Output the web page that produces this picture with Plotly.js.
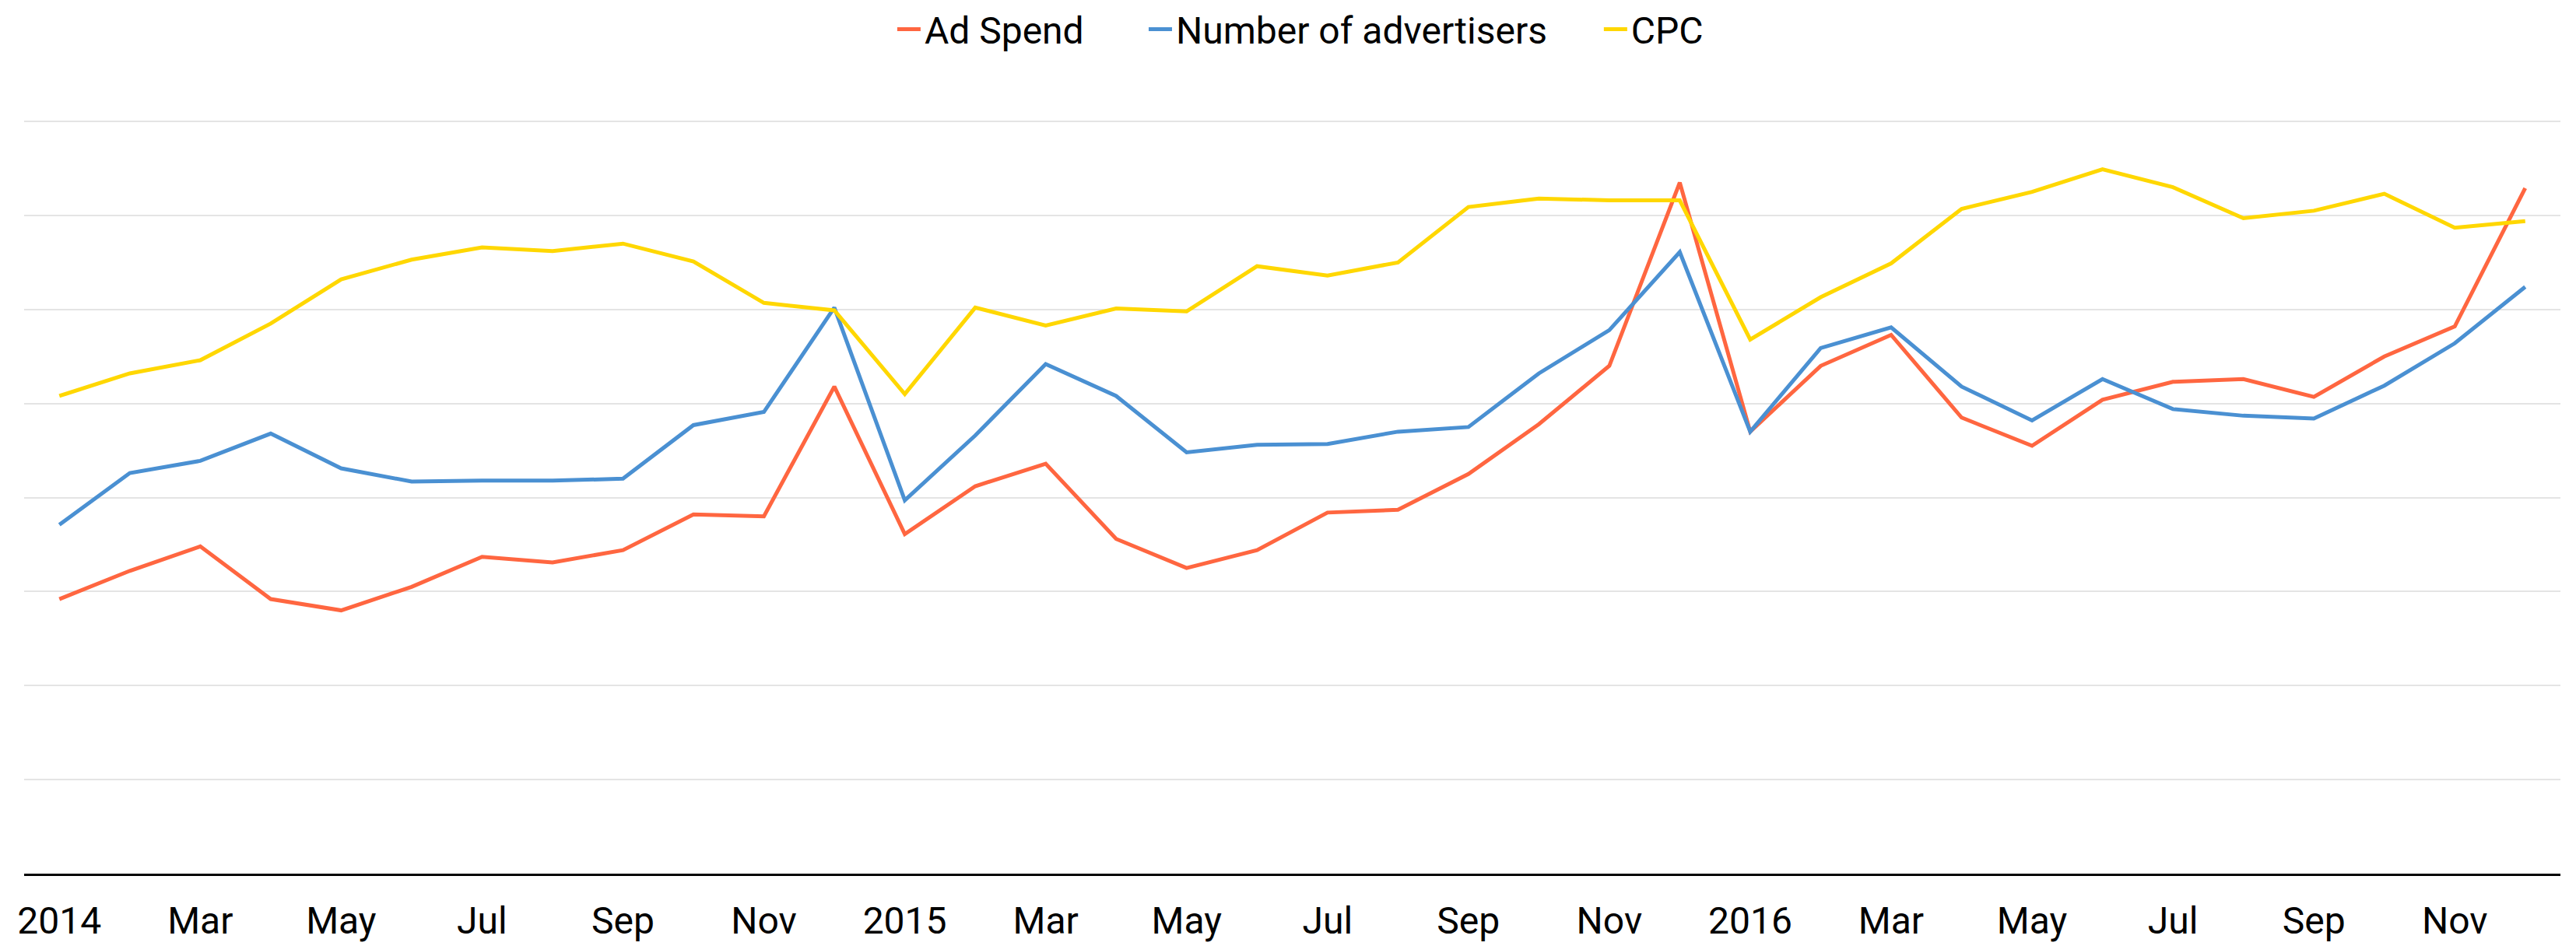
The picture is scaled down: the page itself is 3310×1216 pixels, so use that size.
<!DOCTYPE html>
<html>
<head>
<meta charset="utf-8">
<script src="https://cdn.plot.ly/plotly-3.0.1.min.js"></script>
<style>
  html, body { margin: 0; padding: 0; background: #fff; }
  #chart { width: 3310px; height: 1216px; }
</style>
</head>
<body>
<div id="chart"></div>
<script>
// Months, Jan 2014 - Dec 2016
var months = [
  "2014-01", "2014-02", "2014-03", "2014-04", "2014-05", "2014-06",
  "2014-07", "2014-08", "2014-09", "2014-10", "2014-11", "2014-12",
  "2015-01", "2015-02", "2015-03", "2015-04", "2015-05", "2015-06",
  "2015-07", "2015-08", "2015-09", "2015-10", "2015-11", "2015-12",
  "2016-01", "2016-02", "2016-03", "2016-04", "2016-05", "2016-06",
  "2016-07", "2016-08", "2016-09", "2016-10", "2016-11", "2016-12"
];

var adSpend = [
  29.2, 32.2, 34.8, 29.2, 28.0, 30.5, 33.7, 33.1, 34.4, 38.2, 38.0, 51.8,
  36.1, 41.2, 43.6, 35.6, 32.5, 34.4, 38.4, 38.7, 42.5, 47.8, 54.0, 73.5,
  47.0, 54.0, 57.3, 48.5, 45.5, 50.4, 52.3, 52.6, 50.7, 55.0, 58.2, 72.9
];

var advertisers = [
  37.1, 42.6, 43.9, 46.8, 43.1, 41.7, 41.8, 41.8, 42.0, 47.7, 49.1, 60.2,
  39.7, 46.6, 54.2, 50.8, 44.8, 45.6, 45.7, 47.0, 47.5, 53.2, 57.8, 66.1,
  47.0, 55.9, 58.1, 51.8, 48.2, 52.6, 49.4, 48.7, 48.4, 51.9, 56.4, 62.4
];

var cpc = [
  50.8, 53.2, 54.6, 58.5, 63.2, 65.3, 66.6, 66.2, 67.0, 65.1, 60.7, 59.9,
  51.0, 60.2, 58.3, 60.1, 59.8, 64.6, 63.6, 65.0, 70.9, 71.8, 71.6, 71.6,
  56.8, 61.3, 64.9, 70.7, 72.5, 74.9, 73.0, 69.7, 70.5, 72.3, 68.7, 69.4
];

var tickMonths = [
  "2014-01", "2014-03", "2014-05", "2014-07", "2014-09", "2014-11",
  "2015-01", "2015-03", "2015-05", "2015-07", "2015-09", "2015-11",
  "2016-01", "2016-03", "2016-05", "2016-07", "2016-09", "2016-11"
];
var tickLabels = [
  "2014", "Mar", "May", "Jul", "Sep", "Nov",
  "2015", "Mar", "May", "Jul", "Sep", "Nov",
  "2016", "Mar", "May", "Jul", "Sep", "Nov"
];

var fontFamily = "Roboto, 'Liberation Sans', sans-serif";
var textFont = { family: fontFamily, size: 48, color: "#000" };

var data = [
  {
    x: months, y: adSpend, name: "Ad Spend", legend: "legend",
    type: "scatter", mode: "lines",
    line: { color: "#ff6640", width: 5 }
  },
  {
    x: months, y: advertisers, name: "Number of advertisers", legend: "legend2",
    type: "scatter", mode: "lines",
    line: { color: "#4a90d2", width: 5 }
  },
  {
    x: months, y: cpc, name: "CPC", legend: "legend3",
    type: "scatter", mode: "lines",
    line: { color: "#ffd700", width: 5 }
  }
];

// one legend per series so the entries sit where the reference puts them
function legendAt(xPos) {
  return {
    orientation: "h",
    xref: "container", yref: "container",
    x: xPos, xanchor: "left",
    y: 0.969, yanchor: "middle",
    font: textFont,
    bgcolor: "rgba(0,0,0,0)"
  };
}

var layout = {
  width: 3310,
  height: 1216,
  paper_bgcolor: "#fff",
  plot_bgcolor: "#fff",
  font: textFont,
  margin: { l: 31, r: 20, t: 150, b: 93 },
  showlegend: true,
  legend: legendAt(0.3468),
  legend2: legendAt(0.4444),
  legend3: legendAt(0.6211),
  xaxis: {
    type: "category",
    range: [-0.5, 35.5],
    tickmode: "array",
    tickvals: tickMonths,
    ticktext: tickLabels,
    showgrid: false,
    showline: true,
    linecolor: "#000",
    linewidth: 3,
    ticks: "outside",
    ticklen: 16,
    tickcolor: "rgba(0,0,0,0)",
    tickfont: textFont
  },
  yaxis: {
    range: [0, 80.5],
    dtick: 10,
    showgrid: true,
    gridcolor: "#e4e4e4",
    gridwidth: 2,
    zeroline: false,
    showticklabels: false,
    ticks: ""
  }
};

Plotly.newPlot("chart", data, layout, { displayModeBar: false, staticPlot: true });
</script>
</body>
</html>
